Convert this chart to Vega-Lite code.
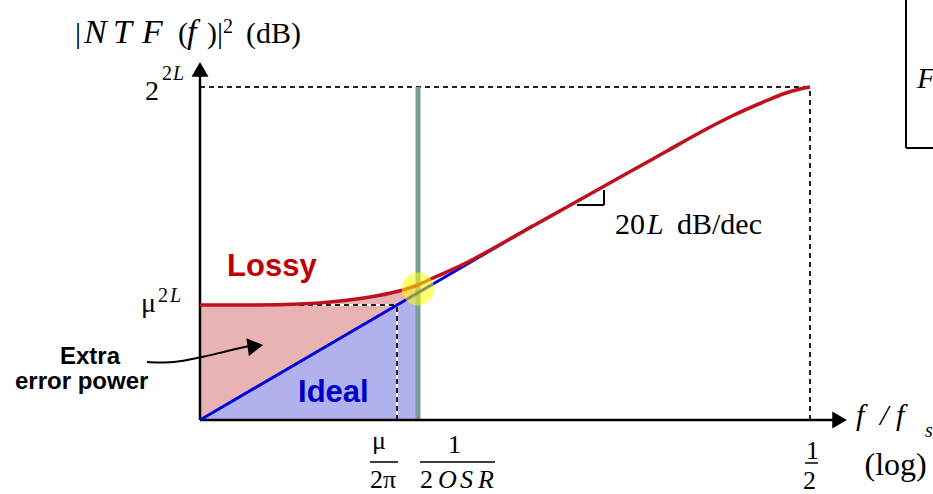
{
  "$schema": "https://vega.github.io/schema/vega-lite/v6.json",
  "width": 933,
  "height": 494,
  "autosize": {"type": "none"},
  "padding": 0,
  "background": "white",
  "config": {"view": {"stroke": null}},
  "encoding": {
    "x": {"field": "x", "type": "quantitative", "scale": {"domain": [-32.787, 120.164], "nice": false, "zero": false}, "axis": null},
    "y": {"field": "y", "type": "quantitative", "scale": {"domain": [-22.222, 126.126], "nice": false, "zero": false}, "axis": null}
  },
  "layer": [
    {
      "description": "Extra error power: between lossy and ideal NTF below 1/2OSR",
      "data": {"values": [
        {"x": 0, "y": 34.53, "y2": 0},
        {"x": 8.2, "y": 34.53, "y2": 8.77},
        {"x": 16.39, "y": 34.83, "y2": 17.52},
        {"x": 22.95, "y": 35.74, "y2": 24.53},
        {"x": 27.87, "y": 36.94, "y2": 29.79},
        {"x": 32.3, "y": 38.6, "y2": 34.53},
        {"x": 35.74, "y": 40.6, "y2": 38.21}
      ]},
      "mark": {"type": "area", "color": "#e8b3b3", "opacity": 1},
      "encoding": {"y2": {"field": "y2"}}
    },
    {
      "description": "In-band noise of the ideal NTF",
      "data": {"values": [
        {"x": 0, "y": 0, "y2": 0},
        {"x": 32.3, "y": 34.53, "y2": 0},
        {"x": 35.74, "y": 38.21, "y2": 0}
      ]},
      "mark": {"type": "area", "color": "#b1b1ee", "opacity": 1},
      "encoding": {"y2": {"field": "y2"}}
    },
    {
      "data": {"values": [
        {"x": 0, "y": 34.53, "x2": 32.3, "y2": 34.53},
        {"x": 32.3, "y": 0, "x2": 32.3, "y2": 34.53}
      ]},
      "mark": {"type": "rule", "color": "white", "strokeWidth": 2},
      "encoding": {"x2": {"field": "x2"}, "y2": {"field": "y2"}}
    },
    {
      "description": "Dashed guide lines",
      "data": {"values": [
        {"x": 0, "y": 100, "x2": 100, "y2": 100},
        {"x": 100, "y": 0, "x2": 100, "y2": 100},
        {"x": 0, "y": 34.53, "x2": 32.3, "y2": 34.53},
        {"x": 32.3, "y": 0, "x2": 32.3, "y2": 34.53}
      ]},
      "mark": {"type": "rule", "color": "#222222", "strokeWidth": 2, "strokeDash": [5, 4]},
      "encoding": {"x2": {"field": "x2"}, "y2": {"field": "y2"}}
    },
    {
      "description": "Signal band edge 1/2OSR",
      "data": {"values": [{"x": 35.74, "y": 0, "x2": 35.74, "y2": 100}]},
      "mark": {"type": "rule", "color": "#7b9e9b", "strokeWidth": 5},
      "encoding": {"x2": {"field": "x2"}, "y2": {"field": "y2"}}
    },
    {
      "description": "Axes",
      "data": {"values": [
        {"x": 0, "y": 0, "x2": 0, "y2": 103.3},
        {"x": 0, "y": 0, "x2": 103.93, "y2": 0}
      ]},
      "mark": {"type": "rule", "color": "black", "strokeWidth": 2.5},
      "encoding": {"x2": {"field": "x2"}, "y2": {"field": "y2"}}
    },
    {
      "description": "Slope marker and side box",
      "data": {"values": [
        {"x": 61.8, "y": 64.56, "x2": 66.23, "y2": 64.56},
        {"x": 66.23, "y": 64.56, "x2": 66.23, "y2": 69.07},
        {"x": 115.74, "y": 81.68, "x2": 115.74, "y2": 130},
        {"x": 115.74, "y": 81.68, "x2": 125, "y2": 81.68}
      ]},
      "mark": {"type": "rule", "color": "black", "strokeWidth": 2},
      "encoding": {"x2": {"field": "x2"}, "y2": {"field": "y2"}}
    },
    {
      "description": "Fraction bars of the tick labels",
      "data": {"values": [
        {"x": 27.87, "y": -12.61, "x2": 32.46, "y2": -12.61},
        {"x": 36.07, "y": -12.61, "x2": 48.36, "y2": -12.61},
        {"x": 99.18, "y": -12.91, "x2": 101.31, "y2": -12.91}
      ]},
      "mark": {"type": "rule", "color": "black", "strokeWidth": 1.5},
      "encoding": {"x2": {"field": "x2"}, "y2": {"field": "y2"}}
    },
    {
      "description": "Ideal NTF",
      "data": {"values": [
        {"x": 0, "y": 0},
        {"x": 32.3, "y": 34.53},
        {"x": 35.74, "y": 38.21},
        {"x": 49.18, "y": 52.57},
        {"x": 54.59, "y": 58.36}
      ]},
      "mark": {"type": "line", "color": "#0000dd", "strokeWidth": 3}
    },
    {
      "description": "Lossy NTF",
      "data": {"values": [
        {"x": 0, "y": 34.53},
        {"x": 8.2, "y": 34.53},
        {"x": 16.39, "y": 34.83},
        {"x": 22.95, "y": 35.74},
        {"x": 27.87, "y": 36.94},
        {"x": 32.3, "y": 38.6},
        {"x": 35.74, "y": 40.6},
        {"x": 38.2, "y": 42.64},
        {"x": 43.77, "y": 47.3},
        {"x": 49.18, "y": 52.7},
        {"x": 54.59, "y": 58.26},
        {"x": 60.16, "y": 63.96},
        {"x": 65.57, "y": 69.52},
        {"x": 70.98, "y": 75.08},
        {"x": 76.56, "y": 80.78},
        {"x": 81.97, "y": 86.34},
        {"x": 87.38, "y": 91.44},
        {"x": 92.95, "y": 95.95},
        {"x": 95.57, "y": 97.9},
        {"x": 98.36, "y": 99.4},
        {"x": 100, "y": 100}
      ]},
      "mark": {"type": "line", "color": "#c0101c", "strokeWidth": 3.5, "interpolate": "monotone"}
    },
    {
      "description": "Pointer from the Extra error power note",
      "data": {"values": [
        {"x": -8.69, "y": 17.42},
        {"x": -5.74, "y": 17.12},
        {"x": -2.79, "y": 17.72},
        {"x": 0.49, "y": 18.92},
        {"x": 3.77, "y": 20.42},
        {"x": 6.56, "y": 21.62},
        {"x": 8.2, "y": 22.22}
      ]},
      "mark": {"type": "line", "color": "black", "strokeWidth": 2, "interpolate": "basis"}
    },
    {
      "data": {"values": [{"x": 0, "y": 105.29}]},
      "mark": {"type": "point", "shape": "triangle-up", "filled": true, "size": 289, "color": "black", "opacity": 1, "strokeWidth": 0}
    },
    {
      "data": {"values": [{"x": 104.85, "y": 0}]},
      "mark": {"type": "point", "shape": "triangle-right", "filled": true, "size": 289, "color": "black", "opacity": 1, "strokeWidth": 0}
    },
    {
      "data": {"values": [{"x": 9.07, "y": 22.19}]},
      "mark": {"type": "point", "shape": "triangle-right", "filled": true, "size": 324, "angle": -8, "color": "black", "opacity": 1, "strokeWidth": 0}
    },
    {
      "description": "Highlight where lossy and ideal curves meet the band edge",
      "data": {"values": [{"x": 35.74, "y": 39.34}]},
      "mark": {"type": "point", "shape": "circle", "filled": true, "size": 1075, "color": "#ffff00", "opacity": 0.55, "strokeWidth": 0}
    },
    {
      "data": {"values": [
        {"x": -20.49, "y": 113.21, "label": "|"},
        {"x": -3.6, "y": 113.21, "label": "("},
        {"x": 1.15, "y": 113.21, "label": ")|"},
        {"x": 7.54, "y": 113.21, "label": "(dB)"},
        {"x": 68.03, "y": 55.86, "label": "20"},
        {"x": 78.2, "y": 55.86, "label": "dB/dec"}
      ]},
      "mark": {"type": "text", "font": "Liberation Serif", "fontSize": 30, "align": "left", "baseline": "alphabetic", "color": "black"},
      "encoding": {"text": {"field": "label", "type": "nominal"}}
    },
    {
      "description": "Wide equation-style italics of the title",
      "data": {"values": [
        {"x": -19.02, "y": 113.21, "label": "N"},
        {"x": -14.26, "y": 113.21, "label": "T"},
        {"x": -9.51, "y": 113.21, "label": "F"},
        {"x": -2.13, "y": 113.21, "label": "f"}
      ]},
      "mark": {"type": "text", "font": "Liberation Serif", "fontStyle": "italic", "fontSize": 34, "align": "left", "baseline": "alphabetic", "color": "black"},
      "encoding": {"text": {"field": "label", "type": "nominal"}}
    },
    {
      "data": {"values": [
        {"x": 73.28, "y": 55.86, "label": "L"},
        {"x": 107.54, "y": -1.5, "label": "f"},
        {"x": 111.48, "y": -1.5, "label": "/"},
        {"x": 114.1, "y": -1.5, "label": "f"},
        {"x": 117.54, "y": 99.7, "label": "F"}
      ]},
      "mark": {"type": "text", "font": "Liberation Serif", "fontStyle": "italic", "fontSize": 30, "align": "left", "baseline": "alphabetic", "color": "black"},
      "encoding": {"text": {"field": "label", "type": "nominal"}}
    },
    {
      "data": {"values": [
        {"x": -9.02, "y": 96.1, "label": "2"},
        {"x": -9.67, "y": 32.43, "label": "μ"}
      ]},
      "mark": {"type": "text", "font": "Liberation Serif", "fontSize": 28, "align": "left", "baseline": "alphabetic", "color": "black"},
      "encoding": {"text": {"field": "label", "type": "nominal"}}
    },
    {
      "data": {"values": [
        {"x": 3.77, "y": 116.22, "label": "2"},
        {"x": -6.23, "y": 102.1, "label": "2"},
        {"x": -6.89, "y": 35.44, "label": "2"}
      ]},
      "mark": {"type": "text", "font": "Liberation Serif", "fontSize": 20, "align": "left", "baseline": "alphabetic", "color": "black"},
      "encoding": {"text": {"field": "label", "type": "nominal"}}
    },
    {
      "data": {"values": [
        {"x": -4.43, "y": 102.1, "label": "L"},
        {"x": -4.92, "y": 35.44, "label": "L"},
        {"x": 118.85, "y": -5.11, "label": "s"}
      ]},
      "mark": {"type": "text", "font": "Liberation Serif", "fontStyle": "italic", "fontSize": 20, "align": "left", "baseline": "alphabetic", "color": "black"},
      "encoding": {"text": {"field": "label", "type": "nominal"}}
    },
    {
      "data": {"values": [
        {"x": 28.2, "y": -8.71, "label": "μ"},
        {"x": 27.87, "y": -20.42, "label": "2π"},
        {"x": 40.66, "y": -9.91, "label": "1"},
        {"x": 36.07, "y": -20.42, "label": "2"},
        {"x": 99.34, "y": -11.71, "label": "1"},
        {"x": 98.85, "y": -20.72, "label": "2"}
      ]},
      "mark": {"type": "text", "font": "Liberation Serif", "fontSize": 26, "align": "left", "baseline": "alphabetic", "color": "black"},
      "encoding": {"text": {"field": "label", "type": "nominal"}}
    },
    {
      "data": {"values": [
        {"x": 39.02, "y": -20.42, "label": "O"},
        {"x": 42.62, "y": -20.42, "label": "S"},
        {"x": 45.57, "y": -20.42, "label": "R"}
      ]},
      "mark": {"type": "text", "font": "Liberation Serif", "fontStyle": "italic", "fontSize": 26, "align": "left", "baseline": "alphabetic", "color": "black"},
      "encoding": {"text": {"field": "label", "type": "nominal"}}
    },
    {
      "data": {"values": [{"x": 108.93, "y": -16.52, "label": "(log)"}]},
      "mark": {"type": "text", "font": "Liberation Serif", "fontSize": 32, "align": "left", "baseline": "alphabetic", "color": "black"},
      "encoding": {"text": {"field": "label", "type": "nominal"}}
    },
    {
      "data": {"values": [{"x": 4.43, "y": 43.24, "label": "Lossy"}]},
      "mark": {"type": "text", "font": "Liberation Sans", "fontWeight": "bold", "fontSize": 31, "align": "left", "baseline": "alphabetic", "color": "#c00000"},
      "encoding": {"text": {"field": "label", "type": "nominal"}}
    },
    {
      "data": {"values": [{"x": 16.07, "y": 5.41, "label": "Ideal"}]},
      "mark": {"type": "text", "font": "Liberation Sans", "fontWeight": "bold", "fontSize": 31, "align": "left", "baseline": "alphabetic", "color": "#0000c8"},
      "encoding": {"text": {"field": "label", "type": "nominal"}}
    },
    {
      "data": {"values": [
        {"x": -22.95, "y": 16.82, "label": "Extra"},
        {"x": -30.33, "y": 9.31, "label": "error power"}
      ]},
      "mark": {"type": "text", "font": "Liberation Sans", "fontWeight": "bold", "fontSize": 24, "align": "left", "baseline": "alphabetic", "color": "black"},
      "encoding": {"text": {"field": "label", "type": "nominal"}}
    }
  ]
}
